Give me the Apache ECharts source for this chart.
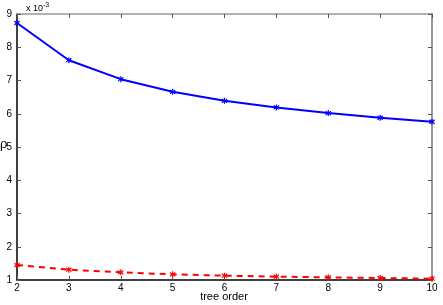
<!DOCTYPE html>
<html><head><meta charset="utf-8">
<script src="https://cdn.jsdelivr.net/npm/echarts@6/dist/echarts.min.js"></script>
<style>html,body{margin:0;padding:0;background:#fff}#c{width:443px;height:305px}</style>
</head><body><div id="c"></div>
<script>
const treeOrder = [2,3,4,5,6,7,8,9,10];
const blueVals = [8.73,7.61,7.04,6.66,6.39,6.19,6.02,5.88,5.76];
const redVals = [1.45,1.31,1.23,1.17,1.13,1.10,1.08,1.06,1.04];
const yTicks = [1,2,3,4,5,6,7,8,9];

const star = 'path://M-1,-5L1,-5L1,-1.5L3.6,-4L5,-2.6L2.4,0L5,2.6L3.6,4L1,1.5L1,5L-1,5L-1,1.5L-3.6,4L-5,2.6L-2.4,0L-5,-2.6L-3.6,-4L-1,-1.5Z';
const chart = echarts.init(document.getElementById('c'), null, {renderer:'canvas'});
const font = 'Liberation Sans, Arial, sans-serif';
chart.setOption({
  animation:false,
  grid:{left:17,right:11,top:14,bottom:25,containLabel:false,outerBoundsMode:'none'},
  xAxis:[{type:'value',min:2,max:10,interval:1,
    axisLine:{lineStyle:{color:'#000',width:1.5}},
    axisTick:{inside:true,length:4,lineStyle:{color:'#555'}},
    axisLabel:{color:'#000',fontFamily:font,fontSize:10,margin:3},
    splitLine:{show:false}},
    {type:'value',min:2,max:10,interval:1,position:'top',
    axisLine:{lineStyle:{color:'#999',width:1.5}},
    axisTick:{inside:true,length:4,lineStyle:{color:'#555'}},
    axisLabel:{show:false},splitLine:{show:false}}],
  yAxis:[{type:'value',min:1,max:9,interval:1,
    axisLine:{lineStyle:{color:'#000',width:1.5}},
    axisTick:{inside:true,length:4,lineStyle:{color:'#555'}},
    axisLabel:{color:'#000',fontFamily:font,fontSize:10,margin:5,formatter:v=>yTicks.includes(v)?String(v):''},
    splitLine:{show:false}},
    {type:'value',min:1,max:9,interval:1,position:'right',
    axisLine:{lineStyle:{color:'#999',width:2}},
    axisTick:{inside:true,length:4,lineStyle:{color:'#555'}},
    axisLabel:{show:false},splitLine:{show:false}}],
  graphic:[
    {type:'text',x:0,y:144,style:{text:'ρ',font:'13px '+font,fill:'#000',verticalAlign:'middle'}},
    {type:'text',x:224,y:297,style:{text:'tree order',font:'11px '+font,fill:'#000',align:'center',verticalAlign:'middle'}},
    {type:'text',left:26,top:2,style:{text:'x 10{s|-3}',rich:{s:{fontSize:7,verticalAlign:'top',padding:[0,0,6,0]}},font:'9px '+font,fill:'#000'}}
  ],
  series:[
    {type:'line',data:treeOrder.map((x,i)=>[x,blueVals[i]]),symbol:star,symbolSize:6,
     lineStyle:{color:'#0000ff',width:2},itemStyle:{color:'#0000ff'}},
    {type:'line',data:treeOrder.map((x,i)=>[x,redVals[i]]),symbol:star,symbolSize:6,
     lineStyle:{color:'#ff0000',width:2,type:[6,5]},itemStyle:{color:'#ff0000'}}
  ]
});
</script></body></html>
